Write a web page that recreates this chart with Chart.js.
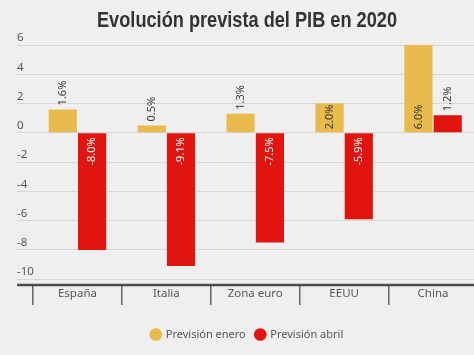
<!DOCTYPE html>
<html>
<head>
<meta charset="utf-8">
<script src="https://cdn.jsdelivr.net/npm/chart.js@4/dist/chart.umd.min.js"></script>
<style>
  html, body { margin: 0; padding: 0; background: #efefef; overflow: hidden; width: 474px; height: 355px; }
  #wrap { position: absolute; left: 0; top: 0; width: 480px; height: 355px; }
</style>
</head>
<body>
<div id="wrap"><canvas id="c" width="480" height="355"></canvas></div>
<script>
const chartTitle = 'Evolución prevista del PIB en 2020';
const categories = ['España', 'Italia', 'Zona euro', 'EEUU', 'China'];
const previsionEnero = [1.6, 0.5, 1.3, 2.0, 6.0];
const previsionAbril = [-8.0, -9.1, -7.5, -5.9, 1.2];
const seriesNames = ['Previsión enero', 'Previsión abril'];
const yTickValues = [-10, -8, -6, -4, -2, 0, 2, 4, 6];

const YELLOW = '#e8bb4c';
const RED = '#e2140f';

const condensedTitle = {
  id: 'condensedTitle',
  afterDraw(chart) {
    const ctx = chart.ctx;
    ctx.save();
    ctx.font = 'bold 22px "Liberation Sans", Arial, sans-serif';
    ctx.fillStyle = '#333333';
    ctx.textBaseline = 'alphabetic';
    ctx.textAlign = 'center';
    const w = ctx.measureText(chartTitle).width;
    const sx = 300 / w;
    ctx.translate(247, 27);
    ctx.scale(sx, 1);
    ctx.fillText(chartTitle, 0, 0);
    ctx.restore();
  }
};

const barLabels = {
  id: 'barLabels',
  afterDatasetsDraw(chart) {
    const ctx = chart.ctx;
    ctx.save();
    ctx.font = '11px "Noto Sans", sans-serif';
    ctx.textBaseline = 'middle';
    chart.data.datasets.forEach((ds, di) => {
      const meta = chart.getDatasetMeta(di);
      meta.data.forEach((bar, i) => {
        const v = ds.data[i];
        const txt = v.toFixed(1) + '%';
        const w = ctx.measureText(txt).width;
        const len = Math.abs(bar.base - bar.y);
        ctx.save();
        if (v >= 0) {
          if (w + 4 <= len) {
            ctx.translate(bar.x, bar.base - 3);
            ctx.fillStyle = di === 0 ? '#3a3a3a' : '#ffffff';
          } else {
            ctx.translate(bar.x, bar.y - 4);
            ctx.fillStyle = '#3a3a3a';
          }
          ctx.rotate(-Math.PI / 2);
          ctx.textAlign = 'left';
        } else {
          ctx.translate(bar.x, bar.base + 4);
          ctx.rotate(-Math.PI / 2);
          ctx.textAlign = 'right';
          ctx.fillStyle = di === 1 ? '#ffffff' : '#3a3a3a';
        }
        ctx.fillText(txt, 0, 0);
        ctx.restore();
      });
    });
    ctx.restore();
  }
};

const baseLine = {
  id: 'baseLine',
  afterDatasetsDraw(chart) {
    const ctx = chart.ctx;
    const y = chart.scales.y;
    const x = chart.scales.x;
    ctx.save();
    ctx.strokeStyle = '#4a4a4a';
    ctx.lineWidth = 2.5;
    ctx.beginPath();
    ctx.moveTo(y.left, chart.chartArea.bottom);
    ctx.lineTo(x.right, chart.chartArea.bottom);
    ctx.stroke();
    ctx.restore();
  }
};

new Chart(document.getElementById('c'), {
  type: 'bar',
  data: {
    labels: categories,
    datasets: [
      { label: seriesNames[0], data: previsionEnero, backgroundColor: YELLOW, categoryPercentage: 0.66, barPercentage: 0.96 },
      { label: seriesNames[1], data: previsionAbril, backgroundColor: RED, categoryPercentage: 0.66, barPercentage: 0.96 }
    ]
  },
  options: {
    responsive: false,
    animation: false,
    layout: { padding: { left: 17, right: 2.5, top: 45, bottom: 5 } },
    plugins: {
      title: { display: false },
      legend: {
        position: 'bottom',
        labels: {
          usePointStyle: true,
          pointStyle: 'circle',
          boxWidth: 9,
          boxHeight: 9,
          color: '#555555',
          font: { family: '"Noto Sans", sans-serif', size: 11 },
          padding: 10
        }
      },
      tooltip: { enabled: false }
    },
    scales: {
      x: {
        grid: { offset: true, drawOnChartArea: false, drawTicks: true, tickLength: 20, color: '#666666', lineWidth: 1.5 },
        border: { display: false },
        ticks: { color: '#555555', font: { family: '"Noto Sans", sans-serif', size: 11.5 }, padding: -18 },
        afterFit: (s) => { s.height = 34; }
      },
      y: {
        min: -10.4,
        max: 6,
        afterBuildTicks: (s) => { s.ticks = yTickValues.map(v => ({ value: v })); },
        grid: { color: '#d6d6d6', lineWidth: 1, drawTicks: true, tickLength: 16 },
        border: { display: false },
        ticks: { mirror: true, padding: -16, labelOffset: -7, color: '#555555', font: { family: '"Noto Sans", sans-serif', size: 11.5 } },
        afterFit: (s) => { s.width = 16; }
      }
    }
  },
  plugins: [barLabels, baseLine, condensedTitle]
});
</script>
</body>
</html>
